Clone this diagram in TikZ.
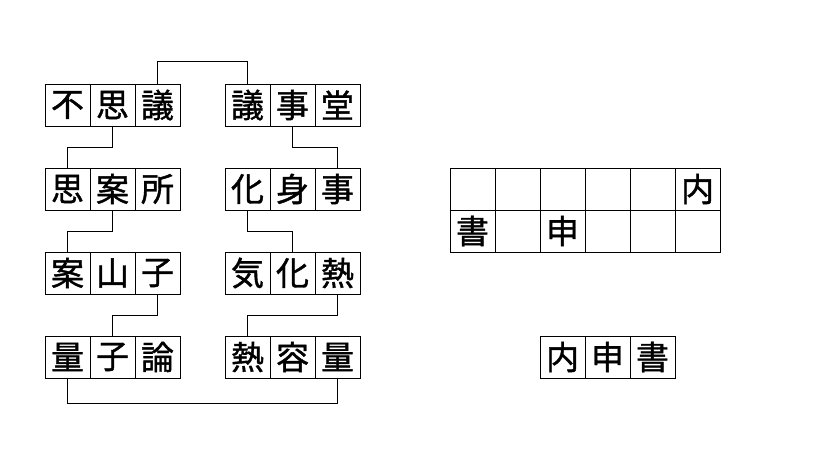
\documentclass[tikz,border=0pt]{standalone}
\usepackage{fontspec}
\newfontfamily\jp[FakeBold=1.2]{Noto Sans CJK JP}
\usetikzlibrary{positioning}
\definecolor{ink}{RGB}{0,0,0}
\tikzset{
  cell/.style={draw=ink,line width=1pt,minimum width=45pt,minimum height=42pt,
    inner sep=0pt,outer sep=0pt,font=\jp\fontsize{33}{33}\selectfont},
  link/.style={draw=ink,line width=1pt},
}
\begin{document}
\begin{tikzpicture}[x=1pt,y=-1pt]
  \useasboundingbox (0,0) rectangle (819,460);
  % left column
  \node[cell] (a1) at (67.5,105) {不};
  \node[cell,right=0pt of a1] (a2) {思};
  \node[cell,right=0pt of a2] (a3) {議};
  \node[cell] (b1) at (67.5,189) {思};
  \node[cell,right=0pt of b1] (b2) {案};
  \node[cell,right=0pt of b2] (b3) {所};
  \node[cell] (c1) at (67.5,273) {案};
  \node[cell,right=0pt of c1] (c2) {山};
  \node[cell,right=0pt of c2] (c3) {子};
  \node[cell] (d1) at (67.5,357) {量};
  \node[cell,right=0pt of d1] (d2) {子};
  \node[cell,right=0pt of d2] (d3) {論};
  % right column
  \node[cell] (e1) at (247.5,105) {議};
  \node[cell,right=0pt of e1] (e2) {事};
  \node[cell,right=0pt of e2] (e3) {堂};
  \node[cell] (f1) at (247.5,189) {化};
  \node[cell,right=0pt of f1] (f2) {身};
  \node[cell,right=0pt of f2] (f3) {事};
  \node[cell] (g1) at (247.5,273) {気};
  \node[cell,right=0pt of g1] (g2) {化};
  \node[cell,right=0pt of g2] (g3) {熱};
  \node[cell] (h1) at (247.5,357) {熱};
  \node[cell,right=0pt of h1] (h2) {容};
  \node[cell,right=0pt of h2] (h3) {量};
  % connectors
  \draw[link] (a3.north) -- ++(0,-22) -| (e1.north);
  \draw[link] (a2.south) -- ++(0,21) -| (b1.north);
  \draw[link] (e2.south) -- ++(0,21) -| (f3.north);
  \draw[link] (b2.south) -- ++(0,21) -| (c1.north);
  \draw[link] (f1.south) -- ++(0,21) -| (g2.north);
  \draw[link] (c3.south) -- ++(0,21) -| (d2.north);
  \draw[link] (g3.south) -- ++(0,21) -| (h1.north);
  \draw[link] (d1.south) -- ++(0,25) -| (h3.south);
  % answer grid
  \node[cell] (p1) at (472.5,189) {};
  \node[cell,right=0pt of p1] (p2) {};
  \node[cell,right=0pt of p2] (p3) {};
  \node[cell,right=0pt of p3] (p4) {};
  \node[cell,right=0pt of p4] (p5) {};
  \node[cell,right=0pt of p5] (p6) {内};
  \node[cell,below=0pt of p1] (q1) {書};
  \node[cell,right=0pt of q1] (q2) {};
  \node[cell,right=0pt of q2] (q3) {申};
  \node[cell,right=0pt of q3] (q4) {};
  \node[cell,right=0pt of q4] (q5) {};
  \node[cell,right=0pt of q5] (q6) {};
  % answer word
  \node[cell] (r1) at (562.5,357) {内};
  \node[cell,right=0pt of r1] (r2) {申};
  \node[cell,right=0pt of r2] (r3) {書};
\end{tikzpicture}
\end{document}
